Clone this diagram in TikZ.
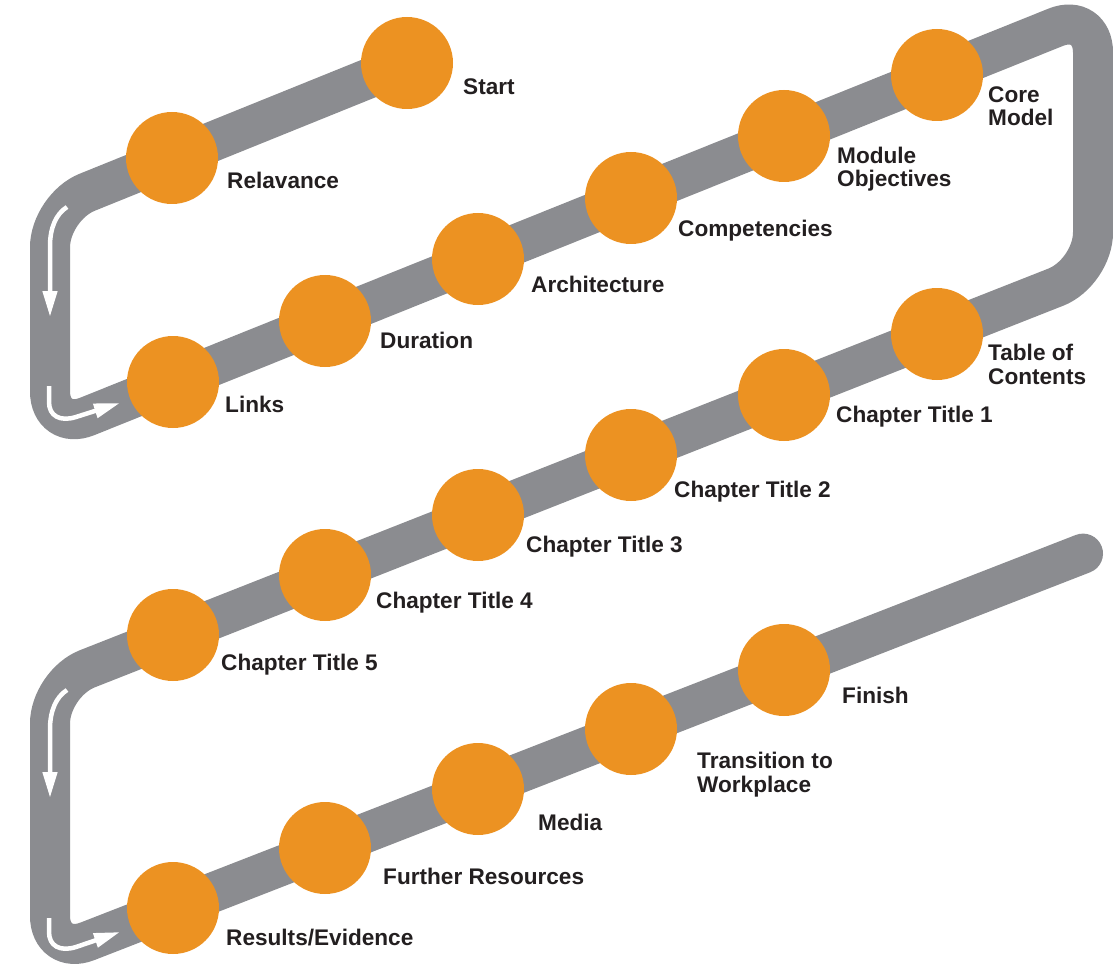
\documentclass[tikz,border=0pt]{standalone}
\usepackage{fontspec}
\setmainfont{Liberation Sans}
\usetikzlibrary{arrows.meta,backgrounds}
\definecolor{track}{RGB}{139,140,144}
\definecolor{dot}{RGB}{236,146,34}
\definecolor{ink}{RGB}{35,31,32}
\begin{document}
\begin{tikzpicture}[x=1pt,y=-1pt,
  stop/.style={circle,fill=dot,minimum size=92pt,inner sep=0pt},
  lbl/.style={anchor=base west,inner sep=0pt,align=left,text=ink,
    font=\fontsize{22.6}{23.5}\selectfont\bfseries},
  trackline/.style={draw=track,line width=40pt,rounded corners=40pt,line cap=round},
  flow/.style={draw=white,line width=4.5pt,-{Triangle[length=26pt,width=14pt]}}]
\useasboundingbox (0,0) rectangle (1113,968);

% stops along the route
\node[stop] (start)        at (407,63)  {};
\node[stop] (relavance)    at (172,158) {};
\node[stop] (links)        at (173,382) {};
\node[stop] (duration)     at (325,321) {};
\node[stop] (architecture) at (478,259) {};
\node[stop] (competencies) at (631,198) {};
\node[stop] (objectives)   at (784,136) {};
\node[stop] (core)         at (937,75)  {};
\node[stop] (toc)          at (937,334) {};
\node[stop] (ch1)          at (784,395) {};
\node[stop] (ch2)          at (631,455) {};
\node[stop] (ch3)          at (478,515) {};
\node[stop] (ch4)          at (325,575) {};
\node[stop] (ch5)          at (173,635) {};
\node[stop] (finish)       at (784,670) {};
\node[stop] (transition)   at (631,729) {};
\node[stop] (media)        at (478,789) {};
\node[stop] (resources)    at (325,848) {};
\node[stop] (results)      at (173,908) {};

% bends of the route
\coordinate (b1) at (50,207.3);
\coordinate (b2) at (50,431.4);
\coordinate (b3) at (1093,12.3);
\coordinate (b4) at (1093,272.5);
\coordinate (b5) at (50,683.5);
\coordinate (b6) at (50,955.9);
\coordinate (tail) at (1083,553.6);

\begin{pgfonlayer}{background}
  \draw[trackline] (start.center) -- (b1) -- (b2) -- (b3) -- (b4) -- (b5) -- (b6) -- (tail);
\end{pgfonlayer}

% direction arrows inside the left bends
\coordinate (a1s) at (67,207);  \coordinate (a1e) at (50,317);
\coordinate (a2s) at (49,386);  \coordinate (a2e) at (120,403);
\coordinate (a3s) at (67,690);  \coordinate (a3e) at (50,798);
\coordinate (a4s) at (49,918);  \coordinate (a4e) at (120,932);
\draw[flow] (a1s) .. controls (56,214) and (50,228) .. (50,246) -- (a1e);
\draw[flow] (a2s) -- (49,402) .. controls (49,416) and (60,422) .. (76,417) -- (a2e);
\draw[flow] (a3s) .. controls (56,697) and (50,711) .. (50,729) -- (a3e);
\draw[flow] (a4s) -- (49,932) .. controls (49,946) and (60,952) .. (76,947) -- (a4e);

% labels (two-line labels sit on the baseline of their last line)
\node[lbl] (l-start)        at (463,95)  {Start};
\node[lbl] (l-relavance)    at (227,189) {Relavance};
\node[lbl] (l-links)        at (225,412) {Links};
\node[lbl] (l-duration)     at (380,348) {Duration};
\node[lbl] (l-architecture) at (531,292) {Architecture};
\node[lbl] (l-competencies) at (678,237) {Competencies};
\node[lbl] (l-objectives)   at (837,187) {Module\\Objectives};
\node[lbl] (l-core)         at (988,126) {Core\\Model};
\node[lbl] (l-toc)          at (988,384) {Table of\\Contents};
\node[lbl] (l-ch1)          at (836,422) {Chapter Title 1};
\node[lbl] (l-ch2)          at (674,497) {Chapter Title 2};
\node[lbl] (l-ch3)          at (526,552) {Chapter Title 3};
\node[lbl] (l-ch4)          at (376,608) {Chapter Title 4};
\node[lbl] (l-ch5)          at (221,670) {Chapter Title 5};
\node[lbl] (l-finish)       at (842,703) {Finish};
\node[lbl] (l-transition)   at (697,792) {Transition to\\Workplace};
\node[lbl] (l-media)        at (538,830) {Media};
\node[lbl] (l-resources)    at (383,884) {Further Resources};
\node[lbl] (l-results)      at (226,945) {Results/Evidence};
\end{tikzpicture}
\end{document}
